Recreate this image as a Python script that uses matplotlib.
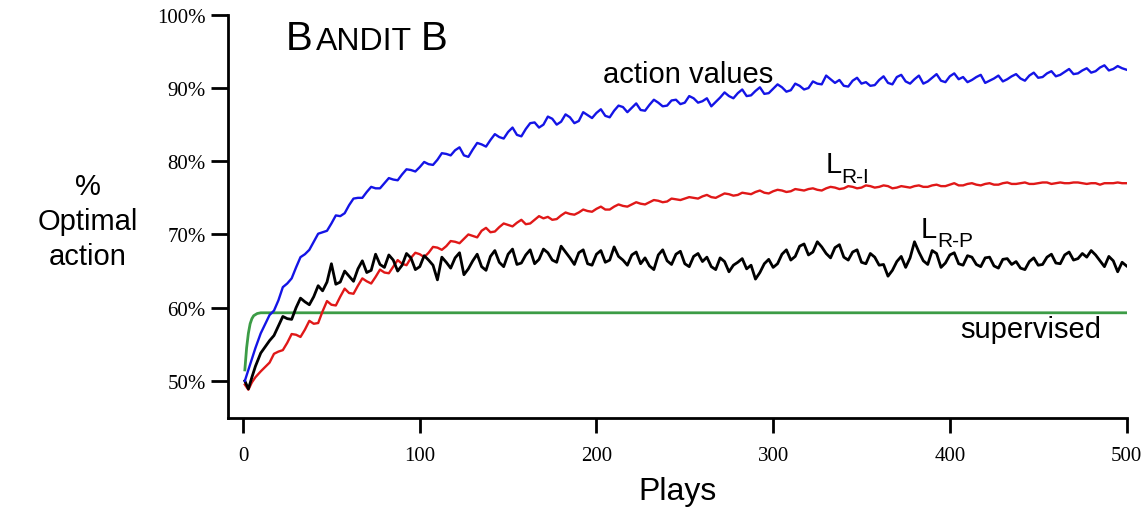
import numpy as np
import matplotlib.pyplot as plt

# plays sampled along the x axis (main samples every 5 plays, plus in-between samples)
plays = [1, 3, 5, 7, 10] + list(range(15, 501, 5))
mid_plays = [p + 2.5 for p in range(15, 500, 5)]

action_values = [50.0, 51.5, 53.0, 54.5, 56.5,
    59.0, 61.0, 63.3, 65.5, 67.3, 69.0, 70.3, 71.5, 72.5, 74.0,
    75.0, 75.8, 76.3, 77.0, 77.5, 78.2, 78.8, 79.2, 79.6, 80.2,
    81.0, 81.5, 80.8, 81.6, 82.3, 82.9, 83.3, 84.0, 83.6, 84.4,
    85.3, 85.0, 85.8, 85.4, 86.0, 85.5, 86.3, 86.6, 86.2, 86.9,
    87.4, 87.3, 87.0, 87.7, 88.0, 87.6, 88.4, 88.0, 88.6, 88.2,
    87.5, 88.7, 88.9, 89.3, 88.9, 89.6, 89.2, 89.9, 90.1, 89.7,
    90.3, 90.0, 90.6, 91.7, 90.7, 90.3, 91.0, 90.6, 90.3, 91.1,
    90.7, 91.5, 90.9, 91.2, 90.6, 91.4, 91.0, 91.6, 91.2, 90.8,
    91.5, 90.7, 91.3, 90.9, 91.6, 91.3, 91.7, 91.4, 92.0, 91.6,
    92.2, 91.9, 92.4, 92.1, 92.8, 92.4, 93.0, 92.5]
action_values_mid = [59.6, 62.8, 64.0, 66.9, 67.9, 70.1, 70.5, 72.6, 72.9, 74.9,
    75.0, 76.5, 76.3, 77.7, 77.4, 78.9, 78.6, 79.9, 79.5, 81.1,
    80.8, 81.9, 80.6, 82.5, 82.0, 83.7, 83.1, 84.6, 83.4, 85.2,
    84.6, 86.1, 85.0, 86.4, 85.2, 86.7, 85.9, 87.1, 86.0, 87.6,
    86.7, 87.9, 86.9, 88.4, 87.5, 88.3, 87.8, 88.9, 88.0, 88.6,
    88.1, 89.4, 88.6, 89.8, 89.0, 90.1, 89.3, 90.5, 89.5, 90.6,
    89.8, 90.9, 90.5, 91.2, 91.1, 90.2, 91.4, 90.8, 90.4, 91.6,
    90.5, 91.8, 90.6, 91.7, 90.9, 91.9, 90.8, 92.0, 91.5, 91.1,
    91.8, 91.0, 91.7, 91.2, 91.9, 91.0, 92.1, 91.5, 92.3, 91.8,
    92.6, 92.0, 92.7, 92.3, 93.1, 92.6, 92.7]

lri = [49.5, 48.8, 49.8, 50.5, 51.3,
    52.5, 54.0, 55.2, 56.3, 57.0, 57.8, 59.5, 60.4, 61.5, 62.0,
    63.0, 63.6, 64.2, 64.8, 65.6, 66.0, 66.8, 67.3, 67.5, 68.2,
    68.4, 69.0, 69.4, 69.8, 70.5, 70.3, 71.0, 71.3, 71.6, 71.4,
    72.0, 72.2, 72.0, 72.6, 72.8, 73.0, 73.2, 73.5, 73.4, 73.8,
    73.9, 74.1, 74.2, 74.4, 74.6, 74.5, 74.8, 74.9, 75.0, 75.2,
    75.1, 75.3, 75.5, 75.4, 75.6, 75.8, 75.7, 75.9, 76.0, 75.9,
    76.1, 76.2, 76.1, 76.3, 76.4, 76.3, 76.5, 76.4, 76.6, 76.5,
    76.6, 76.4, 76.5, 76.6, 76.5, 76.7, 76.6, 76.8, 76.7, 76.9,
    76.8, 76.9, 76.8, 77.0, 76.9, 77.0, 76.9, 77.0, 77.1, 77.0,
    77.0, 77.1, 77.0, 77.0, 76.8, 77.0, 77.1, 77.0]
lri_mid = [53.7, 54.2, 56.4, 56.0, 58.2, 57.9, 60.9, 60.3, 62.6, 61.9,
    64.0, 63.3, 65.2, 64.7, 66.5, 65.8, 67.5, 66.9, 68.3, 67.9,
    69.1, 68.8, 70.0, 69.6, 70.9, 70.4, 71.5, 71.1, 72.0, 71.5,
    72.5, 72.4, 72.1, 73.0, 72.7, 73.4, 73.1, 73.8, 73.4, 74.1,
    73.8, 74.4, 74.1, 74.7, 74.4, 74.9, 74.7, 75.1, 74.9, 75.4,
    75.0, 75.6, 75.3, 75.7, 75.5, 76.0, 75.6, 76.1, 75.8, 76.2,
    76.0, 76.3, 76.0, 76.5, 76.2, 76.6, 76.3, 76.7, 76.4, 76.7,
    76.3, 76.6, 76.4, 76.7, 76.5, 76.8, 76.6, 77.0, 76.7, 77.0,
    76.7, 77.0, 76.8, 77.1, 76.9, 77.1, 76.9, 77.1, 76.9, 77.1,
    77.0, 77.1, 76.9, 77.0, 77.0, 77.0, 77.0]

lrp = [50.0, 48.9, 50.5, 52.0, 53.8,
    55.5, 57.5, 58.5, 60.0, 60.8, 61.5, 62.3, 66.0, 63.5, 64.3,
    65.3, 64.8, 67.3, 65.5, 66.5, 65.8, 66.8, 65.6, 66.5, 63.8,
    66.2, 66.8, 64.5, 66.4, 65.6, 67.0, 66.2, 67.3, 65.9, 67.2,
    66.0, 68.0, 66.5, 68.4, 66.8, 67.5, 66.0, 67.3, 66.2, 68.3,
    66.5, 67.2, 66.0, 65.7, 67.2, 66.4, 67.3, 66.0, 67.0, 66.3,
    65.6, 66.8, 64.9, 66.2, 65.3, 63.9, 66.0, 65.5, 67.3, 66.5,
    68.4, 67.2, 69.0, 67.4, 68.2, 66.9, 67.6, 66.2, 67.4, 65.8,
    64.3, 66.3, 65.5, 69.0, 66.4, 67.8, 65.5, 67.2, 66.0, 67.1,
    65.9, 66.8, 65.7, 66.6, 65.9, 65.4, 66.3, 65.8, 66.9, 66.1,
    67.2, 66.5, 67.4, 67.8, 66.4, 67.0, 64.9, 65.7]
lrp_mid = [56.2, 58.8, 58.4, 61.3, 60.4, 63.0, 63.5, 63.2, 65.0, 63.6,
    66.4, 65.1, 65.9, 67.2, 65.0, 67.4, 65.2, 67.1, 65.8, 66.9,
    65.4, 67.5, 65.3, 67.3, 65.1, 67.8, 65.6, 68.0, 66.1, 67.9,
    66.6, 67.5, 66.2, 67.6, 65.9, 67.9, 65.8, 67.8, 66.5, 67.0,
    65.8, 67.6, 66.8, 65.2, 67.9, 65.9, 67.7, 65.6, 67.4, 66.9,
    65.2, 66.3, 65.8, 66.7, 65.8, 64.8, 66.6, 66.0, 67.9, 67.0,
    68.7, 67.6, 68.3, 66.8, 68.6, 66.5, 67.9, 66.0, 66.9, 65.9,
    65.1, 67.0, 66.8, 67.6, 65.9, 67.4, 66.1, 67.5, 65.8, 66.9,
    65.6, 66.9, 65.4, 66.7, 66.3, 65.2, 66.8, 65.9, 67.3, 66.0,
    67.6, 66.7, 66.9, 67.2, 65.6, 66.4, 66.2]

sup_plays = [1, 2, 3, 4, 5, 6, 8, 10, 13, 16, 500]
supervised = [51.5, 54.5, 56.5, 57.8, 58.5, 58.9, 59.2, 59.3, 59.3, 59.3, 59.3]


def merged(main, mid):
    x = np.concatenate([plays, mid_plays])
    y = np.concatenate([main, mid])
    order = np.argsort(x)
    return x[order], y[order]


fig = plt.figure(figsize=(11.46, 5.10), dpi=100)
ax = fig.add_axes([0.199, 0.178, 0.784, 0.791])

ax.plot(sup_plays, supervised, color='#3c9c46', lw=2)
ax.plot(*merged(lri, lri_mid), color='#e01818', lw=1.7)
ax.plot(*merged(lrp, lrp_mid), color='black', lw=2)
ax.plot(*merged(action_values, action_values_mid), color='#1414e6', lw=1.7)

ax.set_xlim(-8.5, 500)
ax.set_ylim(44.9, 100)
ax.set_xticks(range(0, 501, 100))
ax.set_yticks(range(50, 101, 10))
ax.set_yticklabels([f'{v}%' for v in range(50, 101, 10)])
for s in ['top', 'right']:
    ax.spines[s].set_visible(False)
for s in ['left', 'bottom']:
    ax.spines[s].set_linewidth(2)
ax.tick_params(axis='y', direction='out', length=12, width=2, pad=4)
ax.tick_params(axis='x', direction='out', length=11, width=2, pad=9)
for lab in ax.get_xticklabels() + ax.get_yticklabels():
    lab.set_fontfamily('Liberation Serif')
    lab.set_fontsize(15)

sans = 'Liberation Sans'
ax.set_xlabel('Plays', fontsize=23, family=sans, labelpad=8)
fig.text(88 / 1146, 1 - 222 / 510, '%\nOptimal\naction', ha='center', va='center',
         fontsize=21, family=sans, linespacing=1.32)

# title in small caps
fig.text(286 / 1146, 1 - 50 / 510, 'B', fontsize=29, family=sans, va='baseline')
fig.text(316 / 1146, 1 - 50 / 510, 'ANDIT', fontsize=23, family=sans, va='baseline')
fig.text(421 / 1146, 1 - 50 / 510, 'B', fontsize=29, family=sans, va='baseline')

fig.text(603 / 1146, 1 - 75 / 510, 'action values', fontsize=21, family=sans, va='center')
fig.text(960 / 1146, 1 - 330 / 510, 'supervised', fontsize=21, family=sans, va='center')
fig.text(826 / 1146, 1 - 173 / 510, 'L', fontsize=21, family=sans, va='baseline')
fig.text(841 / 1146, 1 - 183 / 510, 'R-I', fontsize=15, family=sans, va='baseline')
fig.text(921 / 1146, 1 - 238 / 510, 'L', fontsize=21, family=sans, va='baseline')
fig.text(937 / 1146, 1 - 247 / 510, 'R-P', fontsize=15, family=sans, va='baseline')

fig.savefig('out.png', dpi=100)
